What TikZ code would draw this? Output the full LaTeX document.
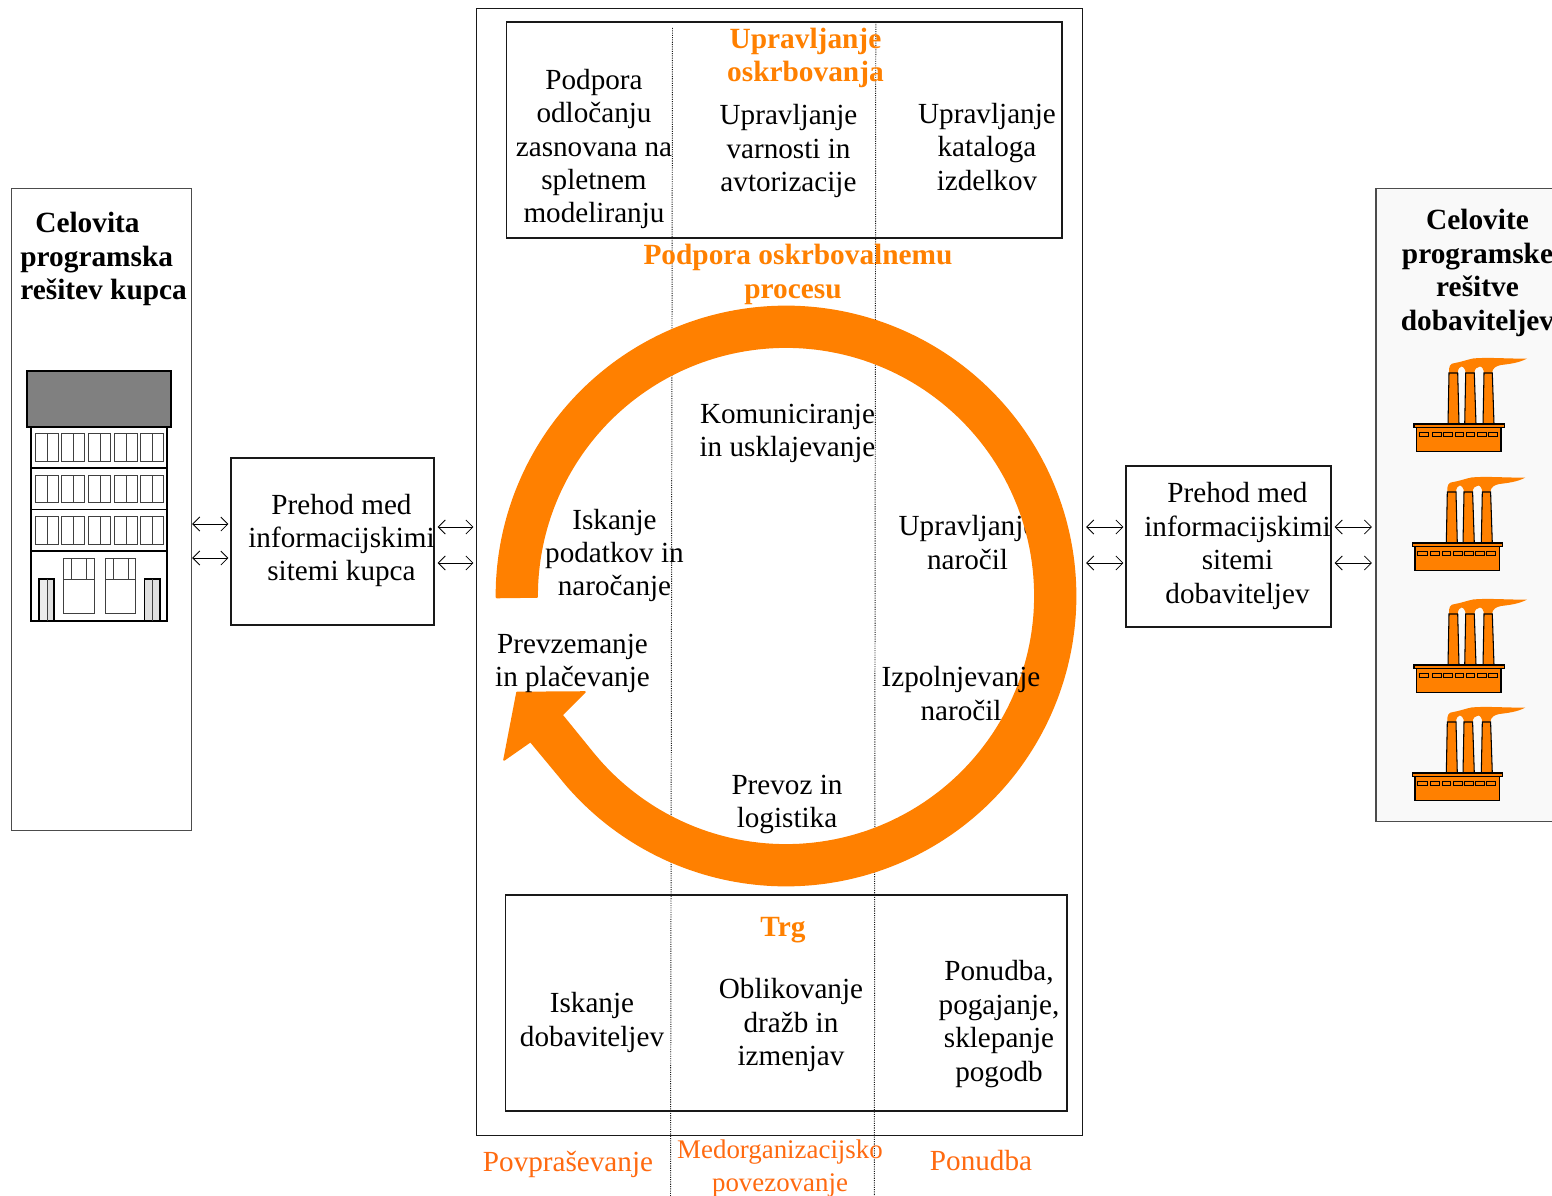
\documentclass[tikz,border=0pt]{standalone}
\usepackage{fontspec}
\setmainfont{Liberation Serif}
\usetikzlibrary{arrows.meta}
\definecolor{ora}{HTML}{FF8000}
\definecolor{orb}{HTML}{FF6A10}
\tikzset{
  x=0.02cm,y=-0.02cm,
  box/.style={draw=black!90,line width=0.62pt,inner sep=0pt,anchor=center},
  txt/.style={align=center,inner sep=0pt,anchor=center,font=\fontsize{16.6}{19.05}\selectfont,text=black},
  bold/.style={txt,font=\fontsize{16.7}{19.05}\selectfont\bfseries},
  otitle/.style={bold,text=ora},
  olabel/.style={txt,text=orb},
  biarrow/.style={line width=0.45pt,{Straight Barb[length=4pt,width=8pt]}-{Straight Barb[length=4pt,width=8pt]}},
  dotline/.style={line width=0.55pt,dash pattern=on 0.6pt off 0.7pt,black!90},
  thin line/.style={draw=black!75,line width=0.5pt},
  bld/.style={draw=black,line width=0.8pt},
  facline/.style={draw=black,line width=0.6pt},
  pics/factory/.style={code={
    \fill[ora] (35,-51) .. controls (34.5,-57) and (36,-61) .. (41,-61) .. controls (47,-62) and (52,-64) .. (59,-65.5)
      .. controls (75,-67) and (95,-65) .. (113,-65.5) .. controls (105,-61) and (95,-60) .. (87,-59)
      .. controls (82,-58) and (78.5,-56) .. (78,-51) -- (70,-51)
      .. controls (69.8,-55) and (67.5,-57.5) .. (66,-57.5) .. controls (63,-57.5) and (60.6,-55) .. (60.3,-51)
      -- (51.7,-51) .. controls (51.5,-55) and (49,-57.5) .. (47.5,-57.5) .. controls (45.5,-57.5) and (44,-55) .. (43.7,-51) -- cycle;
    \fill[ora,facline] (35,-51) -- (43.7,-51) -- (45,0) -- (34,0) -- cycle;
    \fill[ora,facline] (51.7,-51) -- (60.3,-51) -- (62,0) -- (50.7,0) -- cycle;
    \fill[ora,facline] (70,-51) -- (78.3,-51) -- (80,0) -- (69,0) -- cycle;
    \fill[ora,facline] (0,0) rectangle (90.3,3.3);
    \fill[ora,facline] (2.7,3.3) rectangle (87,27.3);
    \foreach \a/\b in {5.3/14.7,18.3/27,29.7/38.3,41/49.7,52/60.7,63.3/72,74.3/83.3}
      \draw[black,line width=0.5pt] (\a,8.7) rectangle (\b,12.3);
  }}
}
\begin{document}
\begin{tikzpicture}
\useasboundingbox (0,0) rectangle (1552,1196);
\clip (0,0) rectangle (1552,1196);
\fill[white] (0,0) rectangle (1552,1196);

% ---------- containers
\node[box,minimum width=12.12cm,minimum height=22.55cm] (centre) at (779.5,572.2) {};
\node[box,minimum width=11.12cm,minimum height=4.32cm] (top) at (784,130) {};
\node[box,minimum width=11.24cm,minimum height=4.32cm] (bottom) at (786,1003) {};
\node[box,draw=black!70,minimum width=3.6cm,minimum height=12.86cm] (cust) at (101.7,509.5) {};
\node[box,fill=white,minimum width=4.06cm,minimum height=3.34cm] (gatel) at (332.5,541.5) {};
\node[box,minimum width=4.1cm,minimum height=3.22cm] (gater) at (1228.5,546.5) {};
\node[box,draw=black!70,fill=black!2.5,minimum width=4.4cm,minimum height=12.68cm] (supp) at (1486,505) {};

% ---------- swim lane separators
\coordinate (d1a) at (672.5,28); \coordinate (d1b) at (670.5,1196);
\coordinate (d2a) at (875.8,22); \coordinate (d2b) at (874.3,1196);
\draw[dotline] (d1a) -- (d1b);
\draw[dotline] (d2a) -- (d2b);

% ---------- text under the ring
\node[txt] (t-upn) at (967.5,542.5) {Upravljanje\\naročil};

% ---------- ring with arrowhead
\fill[ora,draw=ora,line width=0.9pt,line join=round]
  plot[domain=180:501.7,samples=120,smooth] ({786+289.6*cos(\x)},{596+289.6*sin(\x)})
  -- (530.5,741.5) -- (504,760) -- (517,692.5) -- (585,692) -- (562,715)
  -- plot[domain=500.8:180,samples=120,smooth] ({786+248.9*cos(\x)},{596+248.9*sin(\x)})
  -- (537.1,597) -- (496.6,597.5) -- cycle;

% ---------- texts
\node[otitle] (t-uo) at (805.5,58) {Upravljanje\\oskrbovanja};
\node[txt] (t-pod) at (594,149) {Podpora\\odločanju\\zasnovana na\\spletnem\\modeliranju};
\node[txt] (t-var) at (788.5,151) {Upravljanje\\varnosti in\\avtorizacije};
\node[txt] (t-kat) at (987,147) {Upravljanje\\kataloga\\izdelkov};
\node[otitle] (t-pop) at (798,274.5) {Podpora oskrbovalnemu\\procesu\hspace*{0.2cm}};
\node[txt] (t-kom) at (787.5,433.5) {Komuniciranje\\in usklajevanje};
\node[txt] (t-isk) at (614.5,555.5) {Iskanje\\podatkov in\\naročanje};
\node[txt] (t-pre) at (572.5,663.5) {Prevzemanje\\in plačevanje};
\node[txt] (t-izp) at (961,693.5) {Izpolnjevanje\\naročil};
\node[txt] (t-log) at (787,804.5) {Prevoz in\\logistika};
\node[otitle] (t-trg) at (783,930) {Trg};
\node[txt] (t-dob) at (592,1022.5) {Iskanje\\dobaviteljev};
\node[txt] (t-obl) at (791,1025) {Oblikovanje\\dražb in\\izmenjav};
\node[txt] (t-pon) at (999,1024) {Ponudba,\\pogajanje,\\sklepanje\\pogodb};
\node[olabel] (l-pov) at (568,1164) {Povpraševanje};
\node[olabel,font=\fontsize{15.3}{19.05}\selectfont] (l-med) at (780,1168.5) {Medorganizacijsko\\povezovanje};
\node[olabel] (l-pon) at (981,1161) {Ponudba};
\node[txt] (t-gl) at (341.5,540.5) {Prehod med\\informacijskimi\\sitemi kupca};
\node[txt] (t-gr) at (1237.5,546) {Prehod med\\informacijskimi\\sitemi\\dobaviteljev};
\node[bold,align=left,anchor=north west] (t-cust) at (20,212) {\hspace*{0.3cm}Celovita\\programska\\rešitev kupca};
\node[bold] (t-supp) at (1477.5,273) {Celovite\\programske\\rešitve\\dobaviteljev};

% ---------- connectors
\coordinate (y1) at (0,524);
\coordinate (y2) at (0,558);
\coordinate (y3) at (0,527);
\coordinate (y4) at (0,563);
\draw[biarrow,shorten >=1.2pt] (cust.east |- y1) -- (gatel.west |- y1);
\draw[biarrow,shorten >=1.2pt] (cust.east |- y2) -- (gatel.west |- y2);
\draw[biarrow,shorten <=1.8pt,shorten >=1.5pt] (gatel.east |- y3) -- (centre.west |- y3);
\draw[biarrow,shorten <=1.8pt,shorten >=1.5pt] (gatel.east |- y4) -- (centre.west |- y4);
\draw[biarrow,shorten <=1.8pt,shorten >=1.2pt] (centre.east |- y3) -- (gater.west |- y3);
\draw[biarrow,shorten <=1.8pt,shorten >=1.2pt] (centre.east |- y4) -- (gater.west |- y4);
\draw[biarrow,shorten <=1.8pt,shorten >=2pt] (gater.east |- y3) -- (supp.west |- y3);
\draw[biarrow,shorten <=1.8pt,shorten >=2pt] (gater.east |- y4) -- (supp.west |- y4);

% ---------- building
\fill[black!50] (27,371) rectangle (171,427);
\draw[bld] (27,371) rectangle (171,427);
\draw[bld] (31,427) rectangle (167,621);
\foreach \y in {468,509.5,551} \draw[bld] (31,\y) -- (167,\y);
\foreach \t/\b in {433/461,475/502.5,516/544}
  \foreach \a/\m/\c in {35/47/58,61.5/73/84,88/100/110,114/126/137,140.5/152/163}{
    \draw[thin line] (\a,\t) rectangle (\c,\b);
    \draw[thin line] (\m,\t) -- (\m,\b);
  }
\draw[thin line] (63,558) rectangle (94,613);
\draw[thin line] (63,579) -- (94,579);
\draw[thin line] (71,558) -- (71,579);
\draw[thin line] (86,558) -- (86,579);
\draw[thin line] (105,558) rectangle (135,613);
\draw[thin line] (105,579) -- (135,579);
\draw[thin line] (113,558) -- (113,579);
\draw[thin line] (128,558) -- (128,579);
\fill[black!8] (39,579) rectangle (54,621);
\fill[black!12] (47,579) rectangle (54,621);
\draw[bld] (39,579) rectangle (54,621);
\draw[thin line] (47,579) -- (47,621);
\fill[black!12] (144.5,579) rectangle (160,621);
\draw[bld] (144.5,579) rectangle (160,621);
\draw[thin line] (152,579) -- (152,621);

% ---------- factories
\pic at (1414,424) {factory};
\pic at (1412.3,543) {factory};
\pic at (1414,665) {factory};
\pic at (1412.3,773) {factory};
\end{tikzpicture}
\end{document}
